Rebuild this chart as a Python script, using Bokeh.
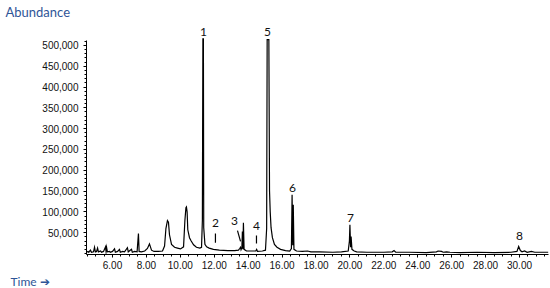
from bokeh.plotting import figure
from bokeh.models import FixedTicker, NumeralTickFormatter, Title, ColumnDataSource
from bokeh.core.properties import value
from bokeh.embed import file_html
from bokeh.resources import INLINE

# Chromatogram trace: retention time (min) and abundance (thousands)
time_min = [4.47, 4.55, 4.60, 4.70, 4.76, 4.88, 4.94, 4.99, 5.06, 5.12, 5.17, 5.30, 5.35, 5.47,
            5.59, 5.62, 5.65, 5.70, 5.82, 5.88, 6.00, 6.12, 6.17, 6.30, 6.41, 6.46, 6.60, 6.71,
            6.88, 6.93, 7.12, 7.17, 7.30, 7.45, 7.53, 7.57, 7.70, 7.90, 8.06, 8.18, 8.30, 8.45,
            8.70, 8.95, 9.07, 9.15, 9.24, 9.30, 9.36, 9.48, 9.66, 9.83, 10.01, 10.19, 10.27,
            10.33, 10.36, 10.40, 10.44, 10.54, 10.64, 10.78, 10.95, 11.15, 11.25, 11.30, 11.33,
            11.36, 11.38, 11.45, 11.55, 11.70, 11.95, 12.30, 12.80, 13.20, 13.43, 13.50, 13.55,
            13.58, 13.63, 13.66, 13.69, 13.72, 13.76, 13.90, 14.20, 14.45, 14.50, 14.55, 14.84,
            15.02, 15.09, 15.12, 15.22, 15.26, 15.30, 15.35, 15.43, 15.55, 15.70, 15.91, 16.20,
            16.45, 16.55, 16.59, 16.63, 16.66, 16.70, 16.85, 17.20, 17.50, 17.70, 18.20, 19.00,
            19.50, 19.90, 19.97, 20.00, 20.04, 20.07, 20.12, 20.25, 20.40, 21.00, 22.00, 22.50,
            22.60, 22.70, 23.50, 24.50, 25.10, 25.20, 25.40, 25.50, 25.70, 25.90, 26.50, 27.50,
            28.50, 29.50, 29.85, 29.95, 30.05, 30.15, 30.30, 30.45, 30.70, 30.90, 31.30, 31.70]
abundance_k = [3, 5, 3, 8, 3, 4, 15, 4, 5, 13, 4, 6, 3, 5,
               16, 5, 15, 4, 5, 3, 5, 11, 3, 5, 10, 3, 5, 4,
               14, 4, 10, 3, 5, 4, 48, 5, 4, 6, 12, 23, 8, 5,
               5, 6, 18, 60, 79, 75, 45, 22, 15, 13, 11, 16, 80,
               110, 112, 100, 57, 38, 30, 21, 15, 13, 15, 80, 516,
               516, 62, 22, 16, 13, 10, 8, 7, 7, 8, 12, 15,
               9, 14, 53, 10, 74, 10, 6, 6, 6, 10, 5, 6,
               8, 60, 514, 514, 150, 100, 62, 38, 22, 15, 10, 7,
               6, 12, 141, 20, 117, 10, 6, 5, 6, 4, 4, 3,
               4, 6, 30, 69, 15, 41, 10, 6, 4, 3, 3, 4,
               7, 3, 3, 2, 4, 6, 5, 3, 4, 3, 2, 3,
               2, 3, 5, 17, 7, 4, 6, 3, 5, 3, 3, 3]

# Peak labels
peak_names = ["1", "2", "3", "4", "5", "6", "7", "8"]
peak_label_t = [11.37, 12.07, 13.19, 14.49, 15.14, 16.61, 20.03, 30.00]
peak_label_k = [533, 74, 77, 67, 533, 158, 86, 41]

# Leader lines for small peaks 2, 3, 4
leader_t0 = [12.07, 13.37, 14.49]
leader_k0 = [48, 55, 43]
leader_t1 = [12.07, 13.55, 14.49]
leader_k1 = [26, 29, 24]

x_ticks = [6, 8, 10, 12, 14, 16, 18, 20, 22, 24, 26, 28, 30]
y_ticks_k = [50, 100, 150, 200, 250, 300, 350, 400, 450, 500]

Y_START = -2400

p = figure(width=550, height=288, output_backend="svg", toolbar_location=None,
           x_range=(4.467, 31.71), y_range=(Y_START, 559800),
           min_border_left=86, min_border_right=2, min_border_top=20, min_border_bottom=33)
p.outline_line_color = None
p.grid.visible = False
p.background_fill_color = "white"
p.border_fill_color = "white"

abund = [v * 1000 for v in abundance_k]
p.line(time_min, abund, line_color="black", line_width=1.2, line_join="miter")

p.segment(x0=leader_t0, y0=[v * 1000 for v in leader_k0],
          x1=leader_t1, y1=[v * 1000 for v in leader_k1],
          line_color="black", line_width=1.2)

src = ColumnDataSource(dict(x=peak_label_t, y=[v * 1000 for v in peak_label_k], t=peak_names))
p.text(x="x", y="y", text="t", source=src, text_align="center", text_baseline="middle",
       text_font=value("Lato"), text_font_size="12px", text_color="#111111")

# axes
xa = p.xaxis[0]
xa.ticker = FixedTicker(ticks=x_ticks, minor_ticks=[4.5 + 0.5 * i for i in range(55)])
xa.formatter = NumeralTickFormatter(format="0.00")
xa.major_tick_in = 0
xa.major_tick_out = 3
xa.minor_tick_in = 0
xa.minor_tick_out = 2
xa.axis_line_color = "black"
xa.major_tick_line_color = "black"
xa.minor_tick_line_color = "black"
xa.major_label_text_font = "Liberation Sans"
xa.major_label_text_font_size = "10px"
xa.major_label_text_color = "#111111"
xa.major_label_standoff = 3

ya = p.yaxis[0]
ya.ticker = FixedTicker(ticks=[v * 1000 for v in y_ticks_k],
                        minor_ticks=[10000 * i for i in range(0, 52)])
ya.formatter = NumeralTickFormatter(format="0,0")
ya.bounds = (Y_START, 512000)
ya.major_tick_in = 0
ya.major_tick_out = 3
ya.minor_tick_in = 0
ya.minor_tick_out = 2
ya.axis_line_color = "black"
ya.major_tick_line_color = "black"
ya.minor_tick_line_color = "black"
ya.major_label_text_font = "Liberation Sans"
ya.major_label_text_font_size = "10px"
ya.major_label_text_color = "#111111"
ya.major_label_standoff = 5

p.title = Title(text="Abundance", align="left", offset=-81, standoff=2,
                text_font="Lato", text_font_size="13px", text_font_style="normal",
                text_color="#2F5597")
p.add_layout(Title(text="Time \u2794", align="left", offset=-76, standoff=0,
                   text_font="Lato", text_font_size="12px", text_font_style="normal",
                   text_color="#2F5597"), "below")

open("out.html", "w").write(file_html(p, INLINE))
